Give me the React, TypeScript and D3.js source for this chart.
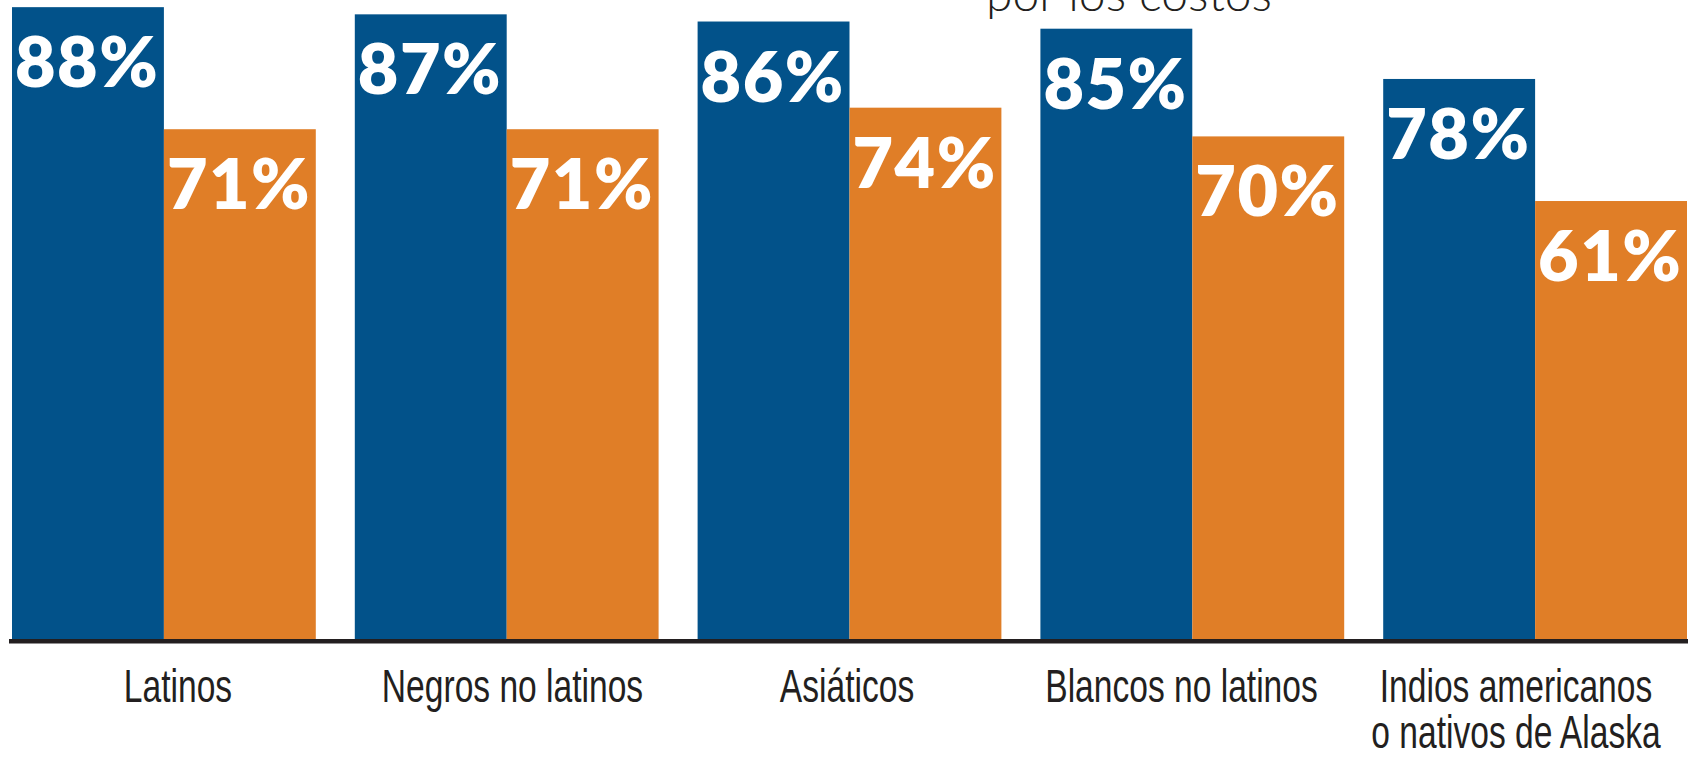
import React from "react";
import * as d3 from "d3";

const categories: string[][] = [
  ["Latinos"],
  ["Negros no latinos"],
  ["Asiáticos"],
  ["Blancos no latinos"],
  ["Indios americanos", "o nativos de Alaska"],
];
const seriesKeys = ["azul", "naranja"];
const blueValues = [88, 87, 86, 85, 78];
const orangeValues = [71, 71, 74, 70, 61];
const titleLine = "por los costos";

const W = 1688;
const H = 757;
const BLUE = "#02528A";
const ORANGE = "#E07E27";
const INK = "#231F20";

export default function App() {
  const catIds = categories.map((c) => c.join(" "));
  const x0 = d3.scaleBand<string>().domain(catIds).range([12, 1687]).paddingInner(0.1138).paddingOuter(0);
  const x1 = d3.scaleBand<string>().domain(seriesKeys).range([0, x0.bandwidth()]).padding(0);
  const xLabel = d3.scalePoint<string>().domain(catIds).range([178, 1516]);
  const y = d3.scaleLinear().domain([0, 100]).range([639, -79]);

  const rows = catIds.map((id, i) => ({
    id,
    lines: categories[i],
    vals: [
      { key: "azul", v: blueValues[i], color: BLUE },
      { key: "naranja", v: orangeValues[i], color: ORANGE },
    ],
  }));

  return (
    <svg
      width={W}
      height={H}
      viewBox={`0 0 ${W} ${H}`}
      style={{ position: "absolute", left: 0, top: 0, background: "#fff" }}
    >
      <rect x={0} y={0} width={W} height={H} fill="#fff" />
      <text
        x={1129}
        y={11}
        textAnchor="middle"
        fontFamily="Lato, 'Open Sans', sans-serif"
        fontWeight={300}
        fontSize={48}
        fill={INK}
      >
        {titleLine}
      </text>
      {rows.map((r) => (
        <g key={r.id} transform={`translate(${x0(r.id)},0)`}>
          {r.vals.map((d) => (
            <g key={d.key}>
              <rect
                x={x1(d.key)}
                y={y(d.v)}
                width={x1.bandwidth()}
                height={y(0) - y(d.v)}
                fill={d.color}
              />
              <text
                x={(x1(d.key) as number) + 3}
                y={y(d.v) + 80}
                fontFamily="Lato, 'Noto Sans', sans-serif"
                fontWeight={800}
                fontSize={70}
                letterSpacing={1.5}
                fill="#fff"
              >
                {`${d.v}%`}
              </text>
            </g>
          ))}
        </g>
      ))}
      <rect x={9} y={639} width={W - 9} height={4.5} fill={INK} />
      {rows.map((r) => (
        <g
          key={r.id + "-lbl"}
          transform={`translate(${xLabel(r.id)},0) scale(0.73,1)`}
        >
          {r.lines.map((ln, j) => (
            <text
              key={j}
              x={0}
              y={702 + j * 46}
              textAnchor="middle"
              fontFamily="'Liberation Sans', Arial, sans-serif"
              fontSize={46}
              fill={INK}
            >
              {ln}
            </text>
          ))}
        </g>
      ))}
    </svg>
  );
}
